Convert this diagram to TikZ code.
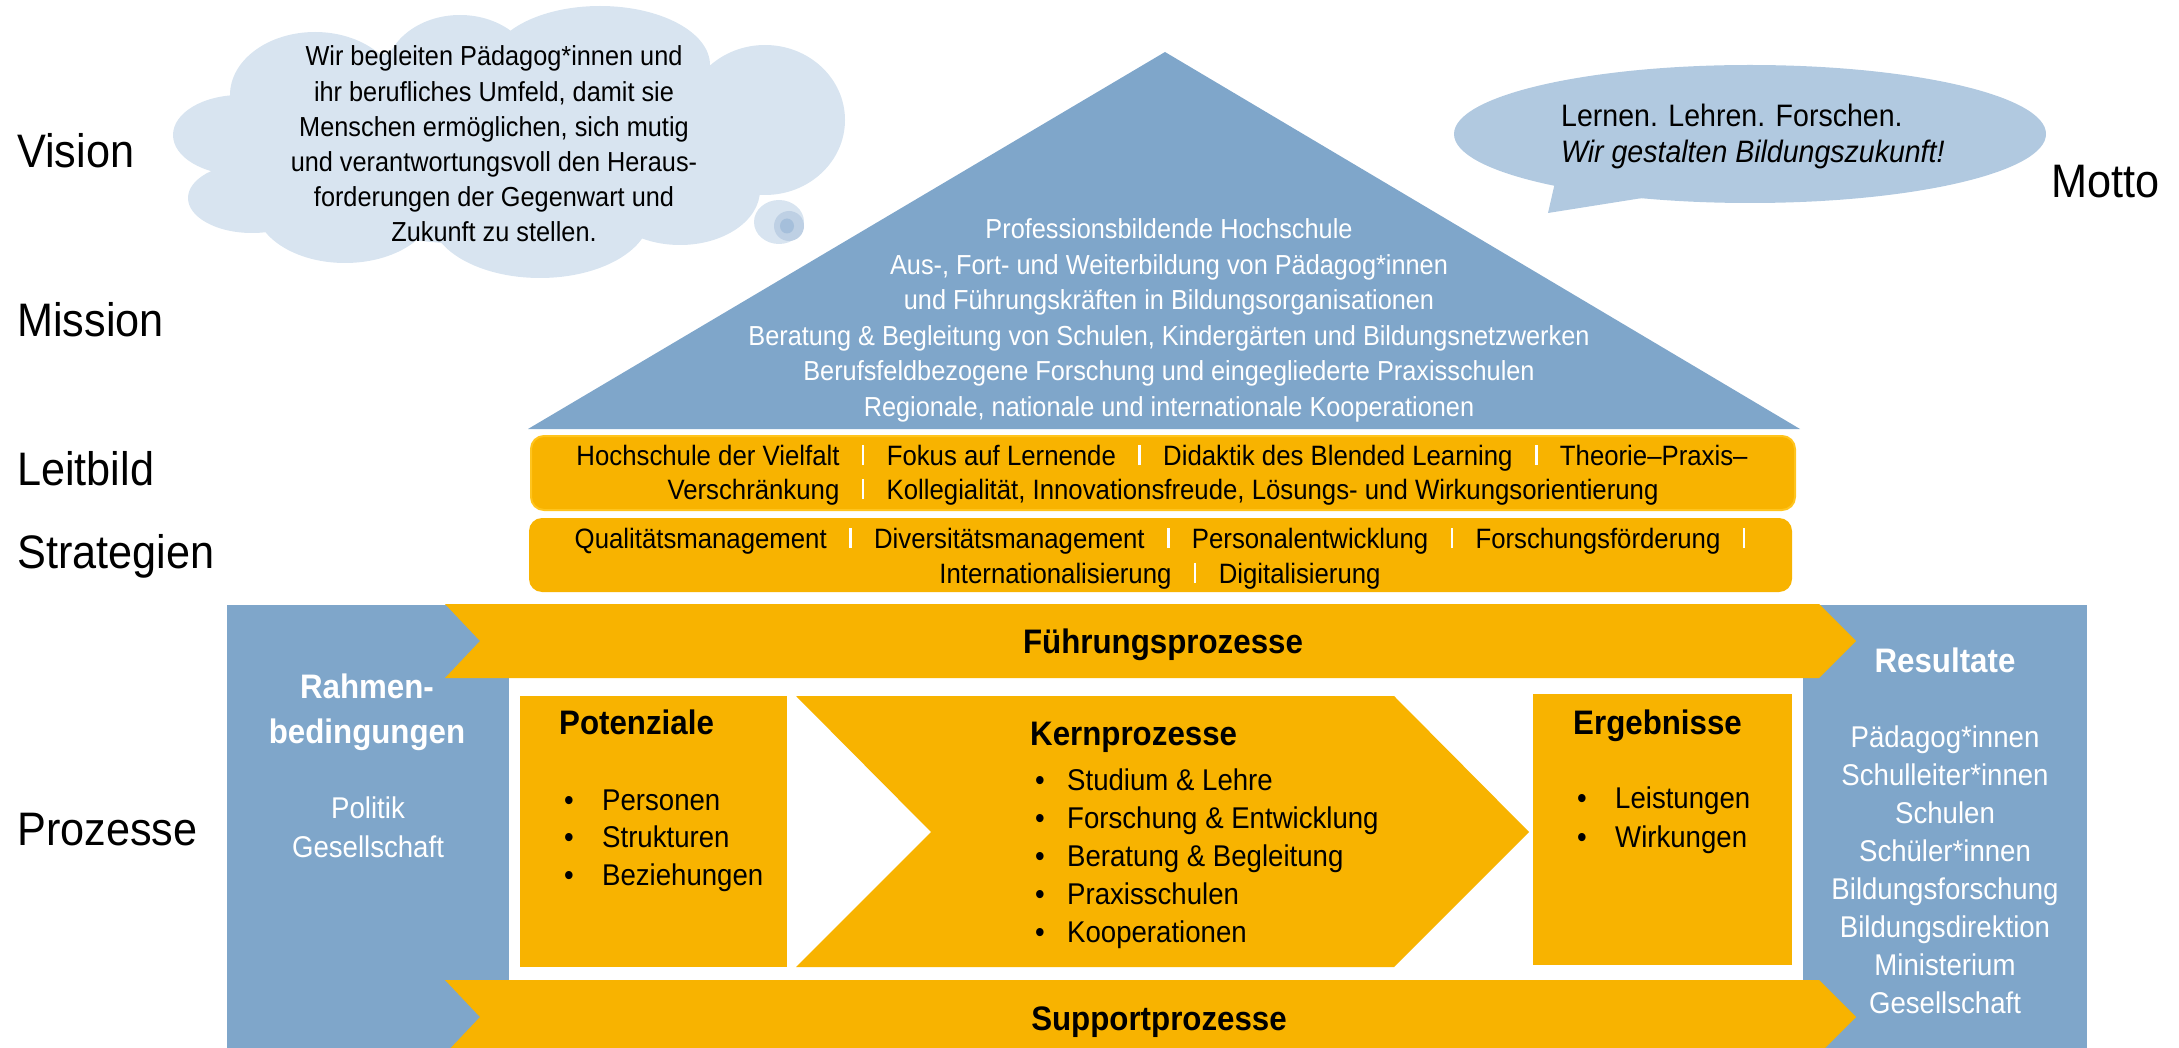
\documentclass[tikz,border=0pt]{standalone}
\usepackage{fontspec}
\setmainfont{Liberation Sans}[FakeStretch=0.92]
\definecolor{hblue}{RGB}{127,166,202}
\definecolor{hgold}{RGB}{248,179,0}
\definecolor{hgoldedge}{RGB}{255,196,30}
\definecolor{cloudc}{RGB}{216,228,240}
\definecolor{mottoc}{RGB}{177,201,224}
\definecolor{bubmid}{RGB}{190,208,228}
\definecolor{bubin}{RGB}{165,191,219}
\newcommand\barsep{\hspace{0.8em}{\color{white}\rule{2.5pt}{0.72em}}\hspace{0.8em}}
\newcommand\bul[1]{\makebox[#1][l]{•}}
\tikzset{
  lbl/.style={anchor=base west, inner sep=0pt, font=\fontsize{47}{56}\selectfont},
  cloudtxt/.style={anchor=base, inner sep=0pt, font=\fontsize{27.5}{33}\selectfont},
  rooftxt/.style={anchor=base, inner sep=0pt, text=white, font=\fontsize{27.5}{33}\selectfont},
  mottotxt/.style={anchor=base west, inner sep=0pt, font=\fontsize{31}{37}\selectfont},
  bandtxt/.style={anchor=base, inner sep=0pt, font=\fontsize{28}{33}\selectfont},
  ttl/.style={inner sep=0pt, font=\bfseries\fontsize{34}{40}\selectfont},
  itm/.style={anchor=base west, inner sep=0pt, font=\fontsize{30}{36}\selectfont},
  witm/.style={anchor=base, inner sep=0pt, text=white, font=\fontsize{30}{36}\selectfont},
}
\begin{document}
\begin{tikzpicture}[x=1pt, y=-1pt]
\useasboundingbox (0,0) rectangle (2179,1048);
\clip (0,0) rectangle (2179,1048);

% ---- thought cloud (vision)
\fill[cloudc]
  (240,135) ellipse [x radius=67pt, y radius=40pt]
  (252,198) ellipse [x radius=64pt, y radius=35pt]
  (315,95) ellipse [x radius=85pt, y radius=63pt]
  (460,75) ellipse [x radius=75pt, y radius=60pt]
  (600,65) ellipse [x radius=110pt, y radius=59pt]
  (765,120) ellipse [x radius=80pt, y radius=75pt]
  (680,190) ellipse [x radius=80pt, y radius=55pt]
  (540,215) ellipse [x radius=110pt, y radius=63pt]
  (345,205) ellipse [x radius=90pt, y radius=58pt]
  (500,145) ellipse [x radius=280pt, y radius=100pt];
\fill[cloudc] (779,222) ellipse [x radius=25pt, y radius=22pt];
\fill[bubmid] (789,226) ellipse [x radius=15pt, y radius=15pt];
\fill[bubin] (787,226) ellipse [x radius=7pt, y radius=7.5pt];

% ---- speech bubble (motto)
\fill[mottoc] (1750,134) ellipse [x radius=296pt, y radius=69pt];
\fill[mottoc] (1556,178) -- (1548,213) -- (1655,196) -- cycle;

% ---- roof
\fill[hblue] (528,429) -- (1165,52) -- (1800,429) -- cycle;

% ---- Leitbild / Strategien bands
\draw[fill=hgold, draw=hgoldedge, line width=2pt, rounded corners=13pt] (531,436) rectangle (1795,510);
\fill[hgold, rounded corners=13pt] (529,518) rectangle (1792,592);

% ---- process area
\fill[hblue] (227,605) rectangle (2087,1060);
\fill[white] (509,678) rectangle (1803,980);
\fill[hgold] (445,604) -- (1819,604) -- (1856,641) -- (1819,678) -- (445,678) -- (480,641) -- cycle;
\fill[hgold] (445,980) -- (1819,980) -- (1856,1017) -- (1819,1054) -- (445,1054) -- (480,1017) -- cycle;
\fill[hgold] (520,696) rectangle (787,967);
\fill[hgold] (796,696) -- (1394,696) -- (1529,832) -- (1394,967) -- (796,967) -- (931,832) -- cycle;
\fill[hgold] (1533,694) rectangle (1792,965);

% ---- left labels
\node[lbl] (vision) at (17,168) {Vision};
\node[lbl] (mission) at (17,337) {Mission};
\node[lbl] (leitbild) at (17,485) {Leitbild};
\node[lbl] (strategien) at (17,568) {Strategien};
\node[lbl] (prozesse) at (17,845) {Prozesse};
\node[lbl] (motto) at (2051,198) {Motto};

% ---- cloud text
\foreach \t [count=\i] in {{Wir begleiten Pädagog*innen und},{ihr berufliches Umfeld, damit sie},{Menschen ermöglichen, sich mutig},{und verantwortungsvoll den Heraus-},{forderungen der Gegenwart und},{Zukunft zu stellen.}}
  \node[cloudtxt] (cl\i) at (494,{66+35.2*(\i-1)}) {\t};

% ---- motto text
\node[mottotxt] (motto1) at (1561,127) {Lernen. Lehren. Forschen.};
\node[mottotxt, font=\itshape\fontsize{31}{37}\selectfont] (motto2) at (1561,163) {Wir gestalten Bildungszukunft!};

% ---- roof text
\foreach \t [count=\i] in {{Professionsbildende Hochschule},{Aus-, Fort- und Weiterbildung von Pädagog*innen},{und Führungskräften in Bildungsorganisationen},{Beratung \& Begleitung von Schulen, Kindergärten und Bildungsnetzwerken},{Berufsfeldbezogene Forschung und eingegliederte Praxisschulen},{Regionale, nationale und internationale Kooperationen}}
  \node[rooftxt] (roof\i) at (1169,{239+35.4*(\i-1)}) {\t};

% ---- Leitbild / Strategien text
\node[bandtxt] (lb1) at (1162,465) {Hochschule der Vielfalt\barsep Fokus auf Lernende\barsep Didaktik des Blended Learning\barsep Theorie–Praxis–};
\node[bandtxt] (lb2) at (1163,499) {Verschränkung\barsep Kollegialität, Innovationsfreude, Lösungs- und Wirkungsorientierung};
\node[bandtxt] (st1) at (1160,548) {Qualitätsmanagement\barsep Diversitätsmanagement\barsep Personalentwicklung\barsep Forschungsförderung\barsep};
\node[bandtxt] (st2) at (1160,583) {Internationalisierung\barsep Digitalisierung};

% ---- process band titles
\node[ttl, anchor=base] (fuehrung) at (1163,653) {Führungsprozesse};
\node[ttl, anchor=base] (support) at (1159,1030) {Supportprozesse};

% ---- Rahmenbedingungen
\node[ttl, anchor=base, text=white] (rahmen1) at (367,698) {Rahmen-};
\node[ttl, anchor=base, text=white] (rahmen2) at (367,743) {bedingungen};
\node[witm] (politik) at (368,818) {Politik};
\node[witm] (gesell) at (368,857) {Gesellschaft};

% ---- Potenziale
\node[ttl, anchor=base west] (pot) at (559,734) {Potenziale};
\foreach \t [count=\i] in {Personen,Strukturen,Beziehungen}
  \node[itm] (pot\i) at (564,{810+37.5*(\i-1)}) {\bul{38pt}\t};

% ---- Kernprozesse
\node[ttl, anchor=base west] (kern) at (1030,745) {Kernprozesse};
\foreach \t [count=\i] in {{Studium \& Lehre},{Forschung \& Entwicklung},{Beratung \& Begleitung},{Praxisschulen},{Kooperationen}}
  \node[itm] (kern\i) at (1035,{790+38.2*(\i-1)}) {\bul{32pt}\t};

% ---- Ergebnisse
\node[ttl, anchor=base west] (erg) at (1573,734) {Ergebnisse};
\foreach \t [count=\i] in {Leistungen,Wirkungen}
  \node[itm] (erg\i) at (1577,{808+39*(\i-1)}) {\bul{38pt}\t};

% ---- Resultate
\node[ttl, anchor=base, text=white] (res) at (1945,672) {Resultate};
\foreach \t [count=\i] in {Pädagog*innen,Schulleiter*innen,Schulen,Schüler*innen,Bildungsforschung,Bildungsdirektion,Ministerium,Gesellschaft}
  \node[witm] (res\i) at (1945,{747+38*(\i-1)}) {\t};
\end{tikzpicture}
\end{document}
